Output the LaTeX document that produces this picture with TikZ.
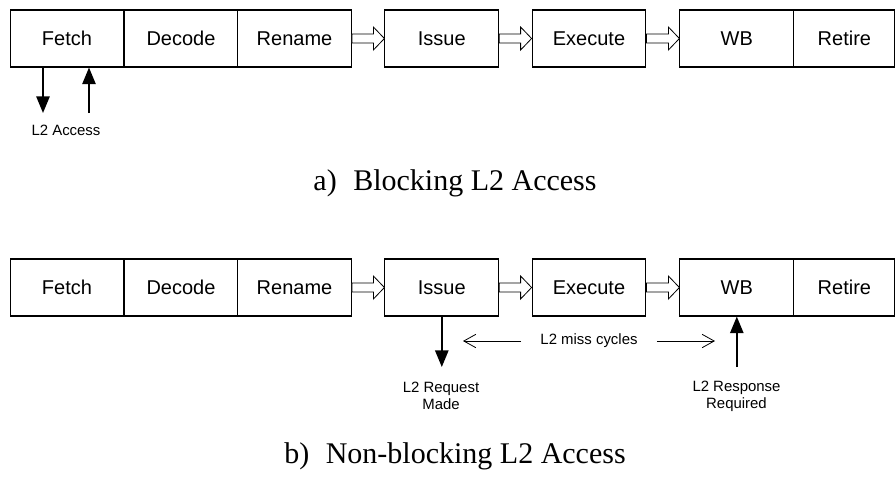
\documentclass[tikz,border=0pt]{standalone}
\usepackage{fontspec}
\setmainfont{Liberation Serif}
\setsansfont{Liberation Sans}
\usetikzlibrary{arrows.meta,calc}

\begin{document}
\begin{tikzpicture}[
        x=0.75pt, y=-0.75pt,
        stage/.style={rectangle, draw, line width=0.8pt, minimum width=85.3pt, minimum height=42.75pt,
            inner sep=0pt, font=\sffamily\fontsize{15}{18}\selectfont},
        note/.style={align=center, inner sep=0pt, font=\sffamily\fontsize{11.2}{13}\selectfont},
        caption/.style={inner sep=0pt, font=\fontsize{22.5}{26}\selectfont},
        hollow/.style={draw, line width=0.6pt, fill=white},
        l2arrow/.style={-{Triangle[length=12.5pt, width=10pt]}, line width=1.3pt},
        missarrow/.style={-{Straight Barb[length=9pt, width=10pt]}, line width=0.6pt}
    ]
        \useasboundingbox (0,0) rectangle (896,476);

        % a) Blocking pipeline
        \node[stage] (f1) at (67,38.5) {Fetch};
        \node[stage] (d1) at (181,38.5) {Decode};
        \node[stage] (r1) at (294.5,38.5) {Rename};
        \node[stage] (i1) at (441.8,38.5) {Issue};
        \node[stage] (e1) at (589,38.5) {Execute};
        \node[stage] (w1) at (736.8,38.5) {WB};
        \node[stage, minimum width=75.8pt] (t1) at (844.4,38.5) {Retire};

        % L2 access from fetch
        \coordinate (dn) at (43,113);
        \coordinate (up) at (89,113);
        \draw[l2arrow] (f1.south -| dn) -- (dn);
        \draw[l2arrow] (up) -- (up |- f1.south);
        \node[note] (acc) at (66,130) {L2 Access};

        \node[caption] (capa) at (455,183) {a)\hspace{0.55em}Blocking L2 Access};

        % b) Non-blocking pipeline
        \node[stage] (f2) at (67,287.5) {Fetch};
        \node[stage] (d2) at (181,287.5) {Decode};
        \node[stage] (r2) at (294.5,287.5) {Rename};
        \node[stage] (i2) at (441.8,287.5) {Issue};
        \node[stage] (e2) at (589,287.5) {Execute};
        \node[stage] (w2) at (736.8,287.5) {WB};
        \node[stage, minimum width=75.8pt] (t2) at (844.4,287.5) {Retire};

        % hollow arrows between stage groups
        \foreach \a/\b in {r1/i1, i1/e1, e1/w1, r2/i2, i2/e2, e2/w2}
            \draw[hollow] ($(\a.east)+(0,-4.5)$) -- ($(\b.west)+(-11,-4.5)$) -- ($(\b.west)+(-11,-11.5)$)
                -- (\b.west) -- ($(\b.west)+(-11,11.5)$) -- ($(\b.west)+(-11,4.5)$) -- ($(\a.east)+(0,4.5)$) -- cycle;

        % request and response
        \coordinate (req) at (441.8,367);
        \coordinate (resp) at (736.8,367);
        \draw[l2arrow] (i2.south) -- (req);
        \draw[l2arrow] (resp) -- (w2.south);
        \node[note] (reqtxt) at (441,396) {L2 Request\\Made};
        \node[note] (resptxt) at (736.5,396) {L2 Response\\Required};

        % miss window
        \node[note, inner xsep=14.3pt] (miss) at (589,341) {L2 miss cycles};
        \coordinate (mL) at (463,341);
        \coordinate (mR) at (715,341);
        \draw[missarrow] (miss.west) -- (mL);
        \draw[missarrow] (miss.east) -- (mR);

        \node[caption] (capb) at (455,456) {b)\hspace{0.55em}Non-blocking L2 Access};
    \end{tikzpicture}
\end{document}
